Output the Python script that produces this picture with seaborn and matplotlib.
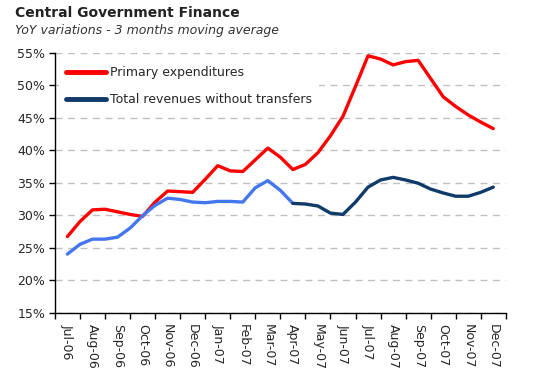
import numpy as np
import pandas as pd
import matplotlib
matplotlib.use("Agg")
import matplotlib.pyplot as plt
import seaborn as sns
from matplotlib.lines import Line2D

# Month labels (category axis) and readings every half month, in %
months = ["Jul-06", "Aug-06", "Sep-06", "Oct-06", "Nov-06", "Dec-06",
          "Jan-07", "Feb-07", "Mar-07", "Apr-07", "May-07", "Jun-07",
          "Jul-07", "Aug-07", "Sep-07", "Oct-07", "Nov-07", "Dec-07"]
steps = [i / 2 for i in range(35)]  # 0, 0.5, ... 17 (month index)

primary_exp = [26.7, 29.0, 30.8, 30.9, 30.5, 30.1, 29.8, 32.0, 33.7, 33.6,
               33.5, 35.5, 37.6, 36.8, 36.7, 38.5, 40.3, 38.9, 37.0, 37.8,
               39.6, 42.2, 45.2, 49.8, 54.5, 54.0, 53.1, 53.6, 53.8, 51.0,
               48.2, 46.7, 45.4, 44.3, 43.3]
revenues = [24.0, 25.5, 26.3, 26.3, 26.6, 28.0, 29.9, 31.5, 32.6, 32.4,
            32.0, 31.9, 32.1, 32.1, 32.0, 34.2, 35.3, 33.8, 31.8, 31.7,
            31.4, 30.3, 30.1, 32.0, 34.3, 35.4, 35.8, 35.4, 34.9, 34.0,
            33.4, 32.9, 32.9, 33.5, 34.3]
split_step = 18  # Apr-07: revenues line turns from light blue to navy

RED = "#FF0000"
LIGHT_BLUE = "#4477EE"
NAVY = "#103A6A"

sns.set_style("white")
plt.rcParams['font.family'] = ['DejaVu Sans']

df = pd.DataFrame({"step": steps, "exp": primary_exp, "rev": revenues})

fig = plt.figure(figsize=(5.33, 3.78), dpi=100)
ax = fig.add_axes([0.103, 0.173, 0.846, 0.688])

line_kw = dict(linewidth=2.4, solid_joinstyle="round", solid_capstyle="round")
sns.lineplot(data=df, x="step", y="exp", color=RED, ax=ax, **line_kw)
sns.lineplot(data=df.iloc[:split_step + 1], x="step", y="rev",
             color=LIGHT_BLUE, ax=ax, **line_kw)
sns.lineplot(data=df.iloc[split_step:], x="step", y="rev",
             color=NAVY, ax=ax, **line_kw)

ax.set_xlim(-0.5, len(months) - 0.5)
ax.set_ylim(15, 55)
ax.set_xlabel("")
ax.set_ylabel("")

# horizontal dashed grid
ax.yaxis.grid(True, linestyle=(0, (5, 4)), color="#c0c0c0", linewidth=1)
ax.xaxis.grid(False)
ax.set_axisbelow(True)

ax.set_yticks(range(15, 60, 5))
ax.set_yticklabels([f"{v}%" for v in range(15, 60, 5)], fontsize=9)
ax.set_xticks(range(len(months)))
ax.set_xticklabels(months, rotation=-90, fontsize=9, va="top", ha="center")
ax.set_xticks(np.arange(-0.5, len(months)), minor=True)
ax.tick_params(axis="x", which="major", length=0, pad=8)
ax.tick_params(axis="x", which="minor", length=4, width=1, color="black",
               direction="out", bottom=True)
ax.tick_params(axis="y", length=4, width=1, color="black", direction="out",
               left=True, pad=3)

for side in ["top", "right"]:
    ax.spines[side].set_visible(False)
for side in ["left", "bottom"]:
    ax.spines[side].set_color("black")
    ax.spines[side].set_linewidth(1)

handles = [Line2D([], [], color=RED, linewidth=3.5),
           Line2D([], [], color=NAVY, linewidth=3.5)]
leg = ax.legend(handles, ["Primary expenditures", "Total revenues without transfers"],
                loc="upper left", bbox_to_anchor=(0.0, 0.99), fontsize=9,
                frameon=True, facecolor="white", edgecolor="none", framealpha=1,
                handlelength=3.2, handletextpad=0.3, labelspacing=1.1,
                borderpad=0.6, borderaxespad=0.3, fancybox=False)

fig.text(0.028, 0.965, "Central Government Finance", fontsize=10,
         fontweight="bold", color="#222222", va="center", ha="left")
fig.text(0.028, 0.918, "YoY variations - 3 months moving average", fontsize=9,
         style="italic", color="#333333", va="center", ha="left")

fig.savefig("out.png", dpi=100)
